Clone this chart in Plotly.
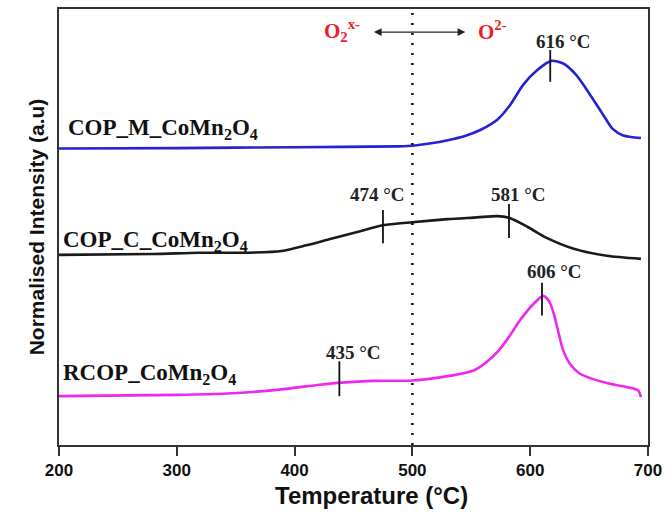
import plotly.graph_objects as go

# ---- data ----
temp_m = [200, 300, 400, 488, 502, 516, 530, 544, 558, 572, 583, 594, 606, 618, 628, 639, 650, 662, 670, 679, 694]
int_m = [68.0, 68.1, 68.3, 68.5, 68.7, 69.2, 69.9, 70.8, 72.3, 74.6, 78.0, 82.6, 86.0, 88.1, 87.5, 84.9, 80.7, 75.7, 72.5, 71.0, 70.4]

temp_c = [200, 280, 319, 361, 389, 410, 431, 454, 475, 500, 530, 555, 572, 582, 598, 614, 637, 665, 694]
int_c = [43.6, 43.8, 44.1, 44.1, 44.5, 45.8, 47.3, 48.9, 50.4, 51.1, 51.8, 52.2, 52.5, 52.1, 50.0, 47.5, 45.0, 43.4, 42.7]

temp_r = [200, 300, 343, 387, 421, 440, 466, 500, 530, 552, 562, 572, 582, 591, 603, 611, 616, 620, 624, 628, 634, 642, 665, 687, 692, 694]
int_r = [11.2, 11.5, 11.8, 12.7, 13.8, 14.3, 14.7, 14.8, 15.8, 17.1, 18.8, 21.3, 24.8, 28.5, 32.4, 34.2, 33.0, 30.1, 25.8, 21.7, 18.5, 16.4, 14.2, 13.0, 12.4, 11.0]

series_names = ["COP_M_CoMn<sub>2</sub>O<sub>4</sub>", "COP_C_CoMn<sub>2</sub>O<sub>4</sub>", "RCOP_CoMn<sub>2</sub>O<sub>4</sub>"]
series_colors = ["#2323d6", "#1a1a1a", "#f026f0"]

peak_T = [617, 475, 582, 438, 610]
peak_labels = ["616 °C", "474 °C", "581 °C", "435 °C", "606 °C"]
peak_lo = [83.3, 46.3, 47.5, 11.2, 29.7]
peak_hi = [90.6, 53.9, 55.3, 19.2, 37.2]
label_pos = [(628, 92.6), (470, 57.5), (590, 57.5), (450, 21.2), (621, 39.8)]

x_ticks = [200, 300, 400, 500, 600, 700]
boundary_T = 500

fig = go.Figure()
for t, v, name, col in zip([temp_m, temp_c, temp_r], [int_m, int_c, int_r], series_names, series_colors):
    fig.add_trace(go.Scatter(x=t, y=v, mode="lines", name=name,
                             line=dict(color=col, width=2.6, shape="spline", smoothing=0.7),
                             showlegend=False, hoverinfo="skip"))

serif = "Liberation Serif, Times New Roman, serif"
sans = "Liberation Sans, Arial, sans-serif"

# vertical dotted boundary
fig.add_shape(type="line", x0=boundary_T, x1=boundary_T, xref="x", y0=0, y1=1, yref="paper",
              line=dict(color="#111", width=2.5, dash="2px,8px"))

# peak markers and labels
for T, lo, hi, lab, (lx, ly) in zip(peak_T, peak_lo, peak_hi, peak_labels, label_pos):
    fig.add_shape(type="line", x0=T, x1=T, y0=lo, y1=hi, xref="x", yref="y",
                  line=dict(color="#111", width=1.8))
    fig.add_annotation(x=lx, y=ly, text="<b>%s</b>" % lab, showarrow=False,
                       font=dict(family=serif, size=19, color="#222"))

# series labels
name_pos = [(206, 72.4), (202, 46.8), (202, 16.4)]
for name, (nx, ny) in zip(series_names, name_pos):
    fig.add_annotation(x=nx, y=ny, text="<b>%s</b>" % name, showarrow=False, xanchor="left",
                       yanchor="middle", font=dict(family=serif, size=23, color="#111"))

# oxygen species labels and arrow
fig.add_annotation(x=440, y=95.0, text="<b>O<sub>2</sub><sup>x-</sup></b>", showarrow=False,
                   font=dict(family=serif, size=21, color="#e8202a"))
fig.add_annotation(x=568, y=95.0, text="<b>O<sup>2-</sup></b>", showarrow=False,
                   font=dict(family=serif, size=21, color="#e8202a"))
fig.add_annotation(x=545, y=94.7, ax=466, ay=94.7, xref="x", yref="y", axref="x", ayref="y",
                   text="", showarrow=True, arrowhead=2, arrowside="end+start",
                   arrowsize=1.3, arrowwidth=1.2, arrowcolor="#222")

# x-axis title
fig.add_annotation(x=0.53, y=-0.116, xref="paper", yref="paper", showarrow=False,
                   xanchor="center", yanchor="middle",
                   text="<b>Temperature (°C)</b>", font=dict(family=sans, size=24, color="#111"))

fig.update_layout(
    width=669, height=530,
    margin=dict(l=59, r=17, t=7, b=85),
    paper_bgcolor="white", plot_bgcolor="white",
    xaxis=dict(range=[200, 700], tickvals=x_ticks, ticktext=["<b>%d</b>" % v for v in x_ticks],
               ticks="outside", ticklen=9, tickwidth=2, tickcolor="#333",
               showline=True, linecolor="#333", linewidth=2, mirror=True, showgrid=False,
               zeroline=False, tickfont=dict(family=sans, size=17, color="#111")),
    yaxis=dict(range=[0, 100], showticklabels=False, ticks="", showline=True, linecolor="#333",
               linewidth=2, mirror=True, showgrid=False, zeroline=False,
               title=dict(text="<b>Normalised Intensity (a.u)</b>",
                          font=dict(family=sans, size=21, color="#111"), standoff=7)),
)

fig.write_html("out.html", config={"displayModeBar": False},
               post_script="document.body.style.margin='0px';")
